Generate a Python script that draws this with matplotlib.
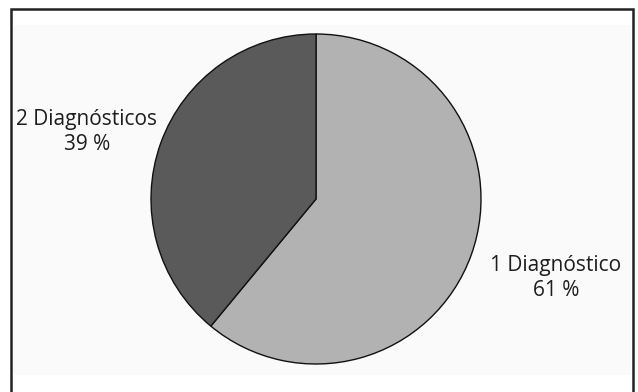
import matplotlib.pyplot as plt
from matplotlib.patches import Rectangle

# Distribución por número de diagnósticos
categorias = ['1 Diagnóstico', '2 Diagnósticos']
porcentajes = [61, 39]
colores = ['#b2b2b2', '#5a5a5a']

W, H = 638, 392
fig = plt.figure(figsize=(W / 100, H / 100), dpi=100)
fig.patch.set_facecolor('white')
ax = fig.add_axes([0, 0, 1, 1])

# marco exterior (sin borde inferior)
ax.plot([11, 11, 633, 633], [0, H - 9, H - 9, 0], color='#222222', lw=1.8,
        solid_joinstyle='miter', zorder=1)
ax.add_patch(Rectangle((13, 17), 618, H - 42, facecolor='#fafafa',
                       edgecolor='none', zorder=0))

ax.pie(porcentajes, colors=colores, startangle=90, counterclock=False,
       center=(316, H - 199), radius=165,
       wedgeprops=dict(edgecolor='#111111', linewidth=1.0))

etiquetas = ['{}\n{} %'.format(c, p) for c, p in zip(categorias, porcentajes)]
estilo = dict(ha='center', va='center', fontsize=15, family='Open Sans',
              color='#1e1e1e', linespacing=1.25)
ax.text(556, H - 278, etiquetas[0], **estilo)
ax.text(87, H - 132, etiquetas[1], **estilo)

ax.set_xlim(0, W)
ax.set_ylim(0, H)
ax.set_aspect('auto')
ax.axis('off')

fig.savefig('out.png', dpi=100)
